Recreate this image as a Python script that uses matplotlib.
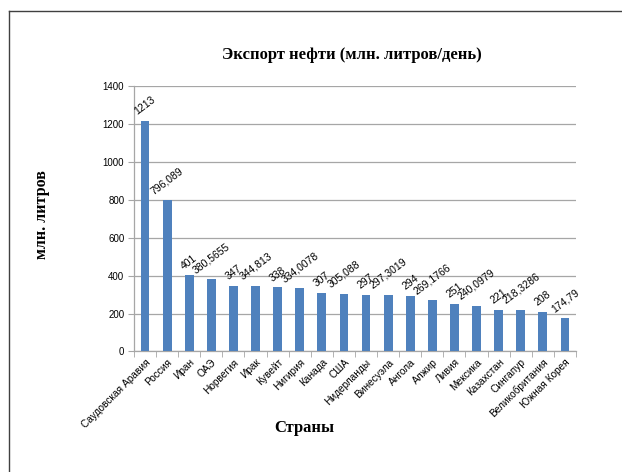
import matplotlib
matplotlib.use('Agg')
import matplotlib.pyplot as plt
from matplotlib.lines import Line2D
import numpy as np

# Countries and oil export values (mln. litres per day)
countries = ['Саудовская Аравия', 'Россия', 'Иран', 'ОАЭ', 'Норвегия', 'Ирак',
             'Кувейт', 'Нигирия', 'Канада', 'США', 'Нидерланды', 'Винесуэла',
             'Ангола', 'Алжир', 'Ливия', 'Мексика', 'Казахстан', 'Сингапур',
             'Великобритания', 'Южная Корея']
values = [1213, 796.089, 401, 380.5655, 347, 344.813, 338, 334.0078, 307, 305.088,
          297, 297.3019, 294, 269.1766, 251, 240.0979, 221, 218.3286, 208, 174.79]
value_labels = ['1213', '796,089', '401', '380,5655', '347', '344,813', '338',
                '334,0078', '307', '305,088', '297', '297,3019', '294', '269,1766',
                '251', '240,0979', '221', '218,3286', '208', '174,79']
yticks = [0, 200, 400, 600, 800, 1000, 1200, 1400]

bar_color = '#4F81BD'
grid_color = '#A6A6A6'
serif = 'Liberation Serif'
sans = 'Liberation Sans'

fig = plt.figure(figsize=(6.22, 4.72), dpi=100)
ax = fig.add_axes([0.2154, 0.2553, 0.7106, 0.5631])

x = np.arange(len(countries))
ax.bar(x, values, width=0.4, color=bar_color, zorder=3)

ax.set_xlim(-0.5, len(countries) - 0.5)
ax.set_ylim(0, 1400)
ax.set_yticks(yticks)
ax.set_yticklabels([str(t) for t in yticks], fontsize=7, family=sans)
ax.yaxis.grid(True, color=grid_color, linewidth=0.9, zorder=0)

# category ticks sit between the bars
ax.set_xticks(np.arange(len(countries) + 1) - 0.5, minor=True)
ax.set_xticks(x)
ax.set_xticklabels(countries, rotation=45, ha='right', rotation_mode='anchor',
                   fontsize=7.3, family=sans)
ax.tick_params(axis='x', which='major', length=0, pad=4)
ax.tick_params(axis='x', which='minor', length=4, color=grid_color, direction='out')
ax.tick_params(axis='y', length=4, color=grid_color, direction='out', pad=3)

for side in ['top', 'right']:
    ax.spines[side].set_visible(False)
for side in ['left', 'bottom']:
    ax.spines[side].set_color(grid_color)
    ax.spines[side].set_linewidth(0.9)

# value labels above the bars
for xi, v, lab in zip(x, values, value_labels):
    ax.annotate(lab, xy=(xi, v), xytext=(0, 3), textcoords='offset points',
                rotation=37, ha='center', va='bottom', fontsize=7.5, family=sans)

fig.text(0.565, 0.884, 'Экспорт нефти (млн. литров/день)', ha='center', va='center',
         fontsize=12, fontweight='bold', family=serif)
fig.text(0.068, 0.545, 'млн. литров', ha='center', va='center', rotation=90,
         fontsize=11.5, fontweight='bold', family=serif)
fig.text(0.49, 0.093, 'Страны', ha='center', va='center',
         fontsize=12, fontweight='bold', family=serif)

# chart area border (only the top and left edges are inside the picture)
fig.add_artist(Line2D([9 / 622, 1], [1 - 10.5 / 472, 1 - 10.5 / 472],
                      color='#404040', linewidth=1.0))
fig.add_artist(Line2D([9 / 622, 9 / 622], [0, 1 - 10.5 / 472],
                      color='#404040', linewidth=1.0))

fig.savefig('out.png', dpi=100)
